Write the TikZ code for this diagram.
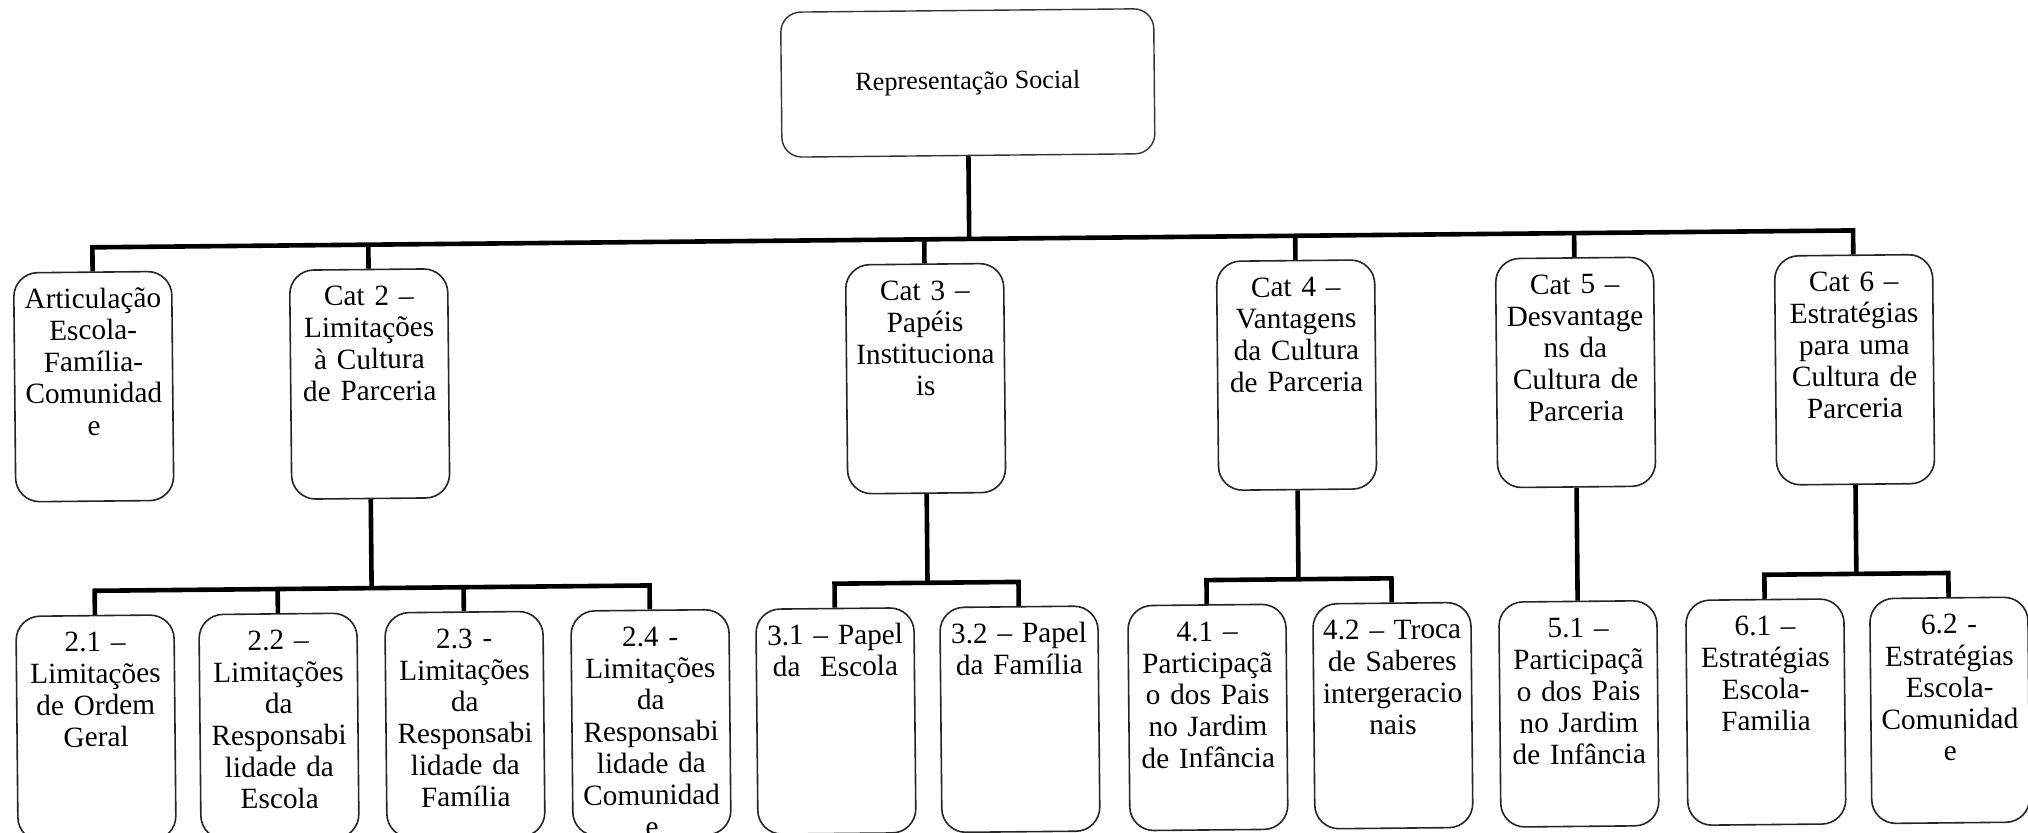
\documentclass[tikz,border=0pt]{standalone}
\usepackage{fontspec}
\setmainfont{Liberation Serif}
\tikzset{
  conn/.style={line width=2.3pt, line join=miter, draw=black},
  catbox/.style={draw=black!85, line width=0.8pt, rounded corners=12pt, inner sep=0pt,
    text width=79pt, align=center, anchor=north,
    font=\fontsize{14.65}{15.85}\selectfont, text height=18pt},
  lvltwo/.style={catbox, text depth=96.5pt},
  lvlthree/.style={catbox, text depth=94.5pt},
  topbox/.style={draw=black!80, line width=0.7pt, rounded corners=10pt,
    minimum width=186.5pt, minimum height=72.5pt, inner sep=0pt,
    font=\fontsize{13.1}{15}\selectfont}
}
\begin{document}
\begin{tikzpicture}[x=0.5pt,y=-0.5pt]
\fill[white] (0,0) rectangle (2028,832);
\useasboundingbox (0,0) rectangle (2028,832);
\begin{scope}[rotate around={0.55:(1014,416)}, transform shape]
% root
\node[topbox] (top) at (971,82.5) {Representação Social};
% level 2
\node[lvltwo] (c1) at (94,262.5) {Articulação\\Escola-\\Família-\\Comunidad\\e};
\node[lvltwo] (c2) at (370,262.5) {Cat 2 –\\Limitações\\à Cultura\\de Parceria};
\node[lvltwo] (c3) at (926,262.5) {Cat 3 –\\Papéis\\Instituciona\\is};
\node[lvltwo] (c4) at (1297,262.5) {Cat 4 –\\Vantagens\\da Cultura\\de Parceria};
\node[lvltwo] (c5) at (1576,262.5) {Cat 5 –\\Desvantage\\ns da\\Cultura de\\Parceria};
\node[lvltwo] (c6) at (1855,262.5) {Cat 6 –\\Estratégias\\para uma\\Cultura de\\Parceria};
% level 3
\node[lvlthree] (s21) at (93,606) {2.1 –\\Limitações\\de Ordem\\Geral};
\node[lvlthree] (s22) at (276,606) {2.2 –\\Limitações\\da\\Responsabi\\lidade da\\Escola};
\node[lvlthree] (s23) at (462,606) {2.3 -\\Limitações\\da\\Responsabi\\lidade da\\Família};
\node[lvlthree] (s24) at (648,606) {2.4 -\\Limitações\\da\\Responsabi\\lidade da\\Comunidad\\e};
\node[lvlthree] (s31) at (833,606) {3.1 – Papel\\da\ \ Escola};
\node[lvlthree] (s32) at (1017,606) {3.2 – Papel\\da Família};
\node[lvlthree] (s41) at (1205,606) {4.1 –\\Participaçã\\o dos Pais\\no Jardim\\de Infância};
\node[lvlthree] (s42) at (1390,606) {4.2 – Troca\\de Saberes\\intergeracio\\nais};
\node[lvlthree] (s51) at (1576,606) {5.1 –\\Participaçã\\o dos Pais\\no Jardim\\de Infância};
\node[lvlthree] (s61) at (1763,606) {6.1 –\\Estratégias\\Escola-\\Familia};
\node[lvlthree] (s62) at (1947,606) {6.2 -\\Estratégias\\Escola-\\Comunidad\\e};
% junctions of the upper bar
\coordinate (jt) at (971,238.5);
\coordinate (j1) at (94,238.5);
\coordinate (j2) at (370,238.5);
\coordinate (j3) at (926,238.5);
\coordinate (j4) at (1297,238.5);
\coordinate (j5) at (1576,238.5);
\coordinate (j6) at (1855,238.5);
% junctions of the lower bars
\coordinate (k2) at (370,582);
\coordinate (k21) at (93,582);
\coordinate (k22) at (276,582);
\coordinate (k23) at (462,582);
\coordinate (k24) at (648,582);
\coordinate (k3) at (926,582);
\coordinate (k31) at (833,582);
\coordinate (k32) at (1017,582);
\coordinate (k4) at (1297,582);
\coordinate (k41) at (1205,582);
\coordinate (k42) at (1390,582);
\coordinate (k6) at (1855,582);
\coordinate (k61) at (1763,582);
\coordinate (k62) at (1947,582);
% connectors
\draw[conn] (top.south) -- (jt);
\draw[conn] (c1.north) -- (j1) -- (j6) -- (c6.north);
\draw[conn] (c2.north) -- (j2);
\draw[conn] (c3.north) -- (j3);
\draw[conn] (c4.north) -- (j4);
\draw[conn] (c5.north) -- (j5);
\draw[conn] (c2.south) -- (k2);
\draw[conn] (s21.north) -- (k21) -- (k24) -- (s24.north);
\draw[conn] (s22.north) -- (k22);
\draw[conn] (s23.north) -- (k23);
\draw[conn] (c3.south) -- (k3);
\draw[conn] (s31.north) -- (k31) -- (k32) -- (s32.north);
\draw[conn] (c4.south) -- (k4);
\draw[conn] (s41.north) -- (k41) -- (k42) -- (s42.north);
\draw[conn] (c5.south) -- (s51.north);
\draw[conn] (c6.south) -- (k6);
\draw[conn] (s61.north) -- (k61) -- (k62) -- (s62.north);
\end{scope}
\end{tikzpicture}
\end{document}
